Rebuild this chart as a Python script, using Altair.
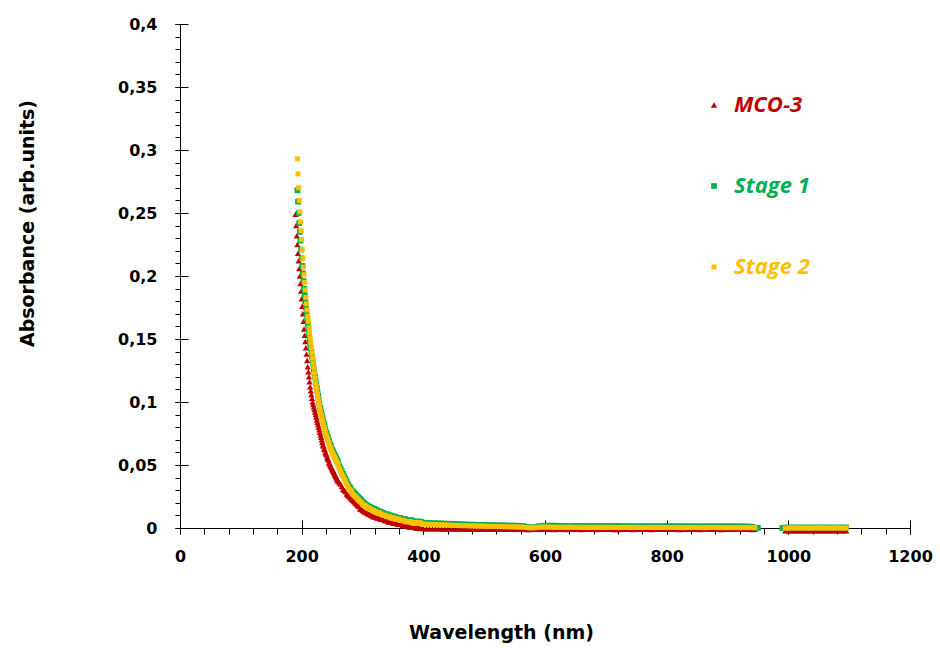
import altair as alt
import pandas as pd

# Sampling grid (nm): 1 nm in the deep UV, then coarser steps; the detector
# switch-over leaves a gap between ~950 and ~990 nm.
wl_uv = list(range(190, 261))
wl_mid = list(range(262, 401, 2))
wl_vis = list(range(405, 951, 5))
wl_nir = list(range(990, 1096, 5))

# MCO-3 absorbance
mco3_uv = [
    .249, .240, .232, .225, .218, .212, .206, .200, .194, .188,
    .182, .176, .170, .164, .158, .153, .148, .143, .138, .133,
    .128, .124, .120, .116, .112, .109, .106, .103, .100, .098,
    .096, .094, .092, .090, .088, .086, .084, .082, .080, .078,
    .076, .074, .072, .070, .068, .066, .065, .063, .062, .060,
    .059, .058, .056, .055, .054, .052, .051, .050, .049, .048,
    .047, .046, .045, .044, .043, .042, .041, .040, .039, .038,
    .037,
]
mco3_mid = [
    .036, .035, .033, .031, .030, .029, .027, .026, .025, .024,
    .023, .022, .021, .020, .019, .018, .017, .015, .015, .014,
    .013, .013, .012, .012, .011, .011, .010, .010, .009, .009,
    .009, .008, .008, .008, .007, .007, .007, .006, .006, .006,
    .005, .005, .005, .005, .004, .004, .004, .004, .003, .003,
    .003, .003, .002, .002, .002, .002, .002, .001, .001, .001,
    .001, .001, .001, .000, .000, .000, .000, .000, -.0005, -.0005,
]
mco3_vis = [
    -.0006, -.0006, -.0007, -.0007, -.0007, -.0008, -.0008, -.0008, -.0008, -.0009,
    -.0009, -.0009, -.0009, -.0010, -.0010, -.0010, -.0010, -.0010, -.0010, -.0010,
    -.0010, -.0011, -.0011, -.0010, -.0010, -.0011, -.0011, -.0010, -.0011, -.0011,
    -.0011, -.0011, -.0011, -.0012, -.0012, -.0011, -.0011, -.0011, -.0011, -.0011,
    -.0011, -.0011, -.0012, -.0011, -.0011, -.0011, -.0012, -.0011, -.0011, -.0011,
    -.0011, -.0012, -.0011, -.0011, -.0011, -.0011, -.0012, -.0011, -.0011, -.0011,
    -.0011, -.0011, -.0012, -.0012, -.0011, -.0011, -.0011, -.0011, -.0012, -.0011,
    -.0011, -.0011, -.0011, -.0011, -.0012, -.0011, -.0011, -.0011, -.0011, -.0011,
    -.0011, -.0011, -.0011, -.0012, -.0011, -.0011, -.0011, -.0011, -.0011, -.0011,
    -.0012, -.0011, -.0011, -.0011, -.0011, -.0011, -.0011, -.0012, -.0011, -.0011,
    -.0011, -.0011, -.0011, -.0011, -.0011, -.0011, -.0011, -.0012, -.0011, None,
]
mco3_nir = [
    None, -.0021, -.0022, -.0022, -.0021, -.0022, -.0022, -.0022, -.0021, -.0022,
    -.0022, -.0022, -.0022, -.0021, -.0022, -.0022, -.0022, -.0022, -.0021, -.0022,
    -.0022, -.0022,
]

# Stage 1 absorbance
stage1_uv = [
    None, None, None, .268, .259, .250, .242, .235, .228, .221,
    .214, .208, .202, .196, .190, .185, .180, .175, .170, .166,
    .162, .158, .154, .150, .146, .143, .140, .136, .133, .130,
    .126, .123, .120, .117, .114, .111, .108, .105, .102, .099,
    .096, .094, .092, .090, .088, .086, .084, .082, .080, .078,
    .076, .075, .073, .072, .070, .069, .067, .066, .065, .063,
    .062, .061, .060, .059, .058, .057, .056, .055, .054, .053,
    .052,
]
stage1_mid = [
    .049, .047, .045, .043, .041, .039, .037, .035, .033, .032,
    .030, .029, .028, .027, .026, .025, .024, .023, .022, .021,
    .020, .019, .018, .018, .017, .017, .016, .016, .015, .015,
    .014, .014, .013, .013, .013, .012, .012, .011, .011, .011,
    .010, .010, .010, .009, .009, .009, .009, .008, .008, .008,
    .008, .007, .007, .007, .007, .006, .006, .006, .006, .006,
    .006, .005, .005, .005, .005, .005, .005, .005, .004, .004,
]
stage1_vis = [
    .0042, .0040, .0039, .0038, .0037, .0036, .0035, .0034, .0033, .0032,
    .0031, .0030, .0029, .0028, .0027, .0027, .0026, .0025, .0025, .0024,
    .0023, .0023, .0022, .0022, .0021, .0021, .0020, .0020, .0019, .0019,
    .0018, .0017, .0016, .0008, .0005, .0005, .0007, .0014, .0016, .0018,
    .0019, .0019, .0018, .0018, .0017, .0017, .0017, .0012, .0016, .0016,
    .0016, .0016, .0016, .0015, .0015, .0015, .0015, .0015, .0015, .0015,
    .0015, .0015, .0015, .0015, .0015, .0015, .0014, .0014, .0014, .0014,
    .0014, .0014, .0014, .0014, .0014, .0014, .0014, .0014, .0014, .0014,
    .0014, .0014, .0014, .0014, .0013, .0013, .0013, .0013, .0013, .0013,
    .0013, .0013, .0013, .0013, .0013, .0013, .0013, .0013, .0013, .0013,
    .0013, .0013, .0013, .0013, .0013, .0012, .0012, .0010, .0004, .0001,
]
stage1_nir = [
    .0000, .0003, .0004, .0004, .0004, .0004, .0004, .0004, .0004, .0004,
    .0004, .0004, .0004, .0004, .0004, .0004, .0004, .0004, .0004, .0004,
    .0004, .0004,
]

# Stage 2 absorbance
stage2_uv = [
    None, None, None, .293, .281, .270, .260, .251, .243, .236,
    .229, .221, .214, .207, .201, .195, .189, .183, .178, .173,
    .168, .164, .159, .155, .151, .147, .143, .139, .135, .131,
    .127, .123, .119, .115, .112, .109, .106, .103, .100, .097,
    .094, .092, .090, .088, .086, .084, .082, .080, .078, .076,
    .074, .073, .071, .070, .068, .067, .065, .064, .063, .061,
    .060, .059, .058, .057, .056, .055, .054, .053, .052, .051,
    .050,
]
stage2_mid = [
    .047, .045, .043, .041, .039, .037, .035, .033, .031, .030,
    .029, .027, .026, .025, .024, .023, .022, .021, .020, .019,
    .018, .018, .017, .016, .016, .015, .015, .014, .014, .013,
    .013, .012, .012, .012, .011, .011, .010, .010, .010, .009,
    .009, .009, .008, .008, .008, .008, .007, .007, .007, .007,
    .006, .006, .006, .006, .005, .005, .005, .005, .005, .005,
    .004, .004, .004, .004, .004, .004, .004, .004, .003, .003,
]
stage2_vis = [
    .0030, .0029, .0028, .0027, .0026, .0025, .0024, .0023, .0022, .0021,
    .0020, .0019, .0018, .0018, .0017, .0016, .0016, .0015, .0015, .0014,
    .0013, .0013, .0012, .0012, .0011, .0011, .0010, .0010, .0009, .0009,
    .0008, .0008, .0007, .0004, .0002, .0002, .0003, .0006, .0007, .0007,
    .0007, .0006, .0006, .0006, .0006, .0005, .0006, .0006, .0005, .0005,
    .0005, .0005, .0005, .0004, .0005, .0005, .0005, .0005, .0005, .0005,
    .0005, .0005, .0004, .0004, .0005, .0005, .0005, .0004, .0004, .0004,
    .0004, .0004, .0004, .0004, .0004, .0004, .0004, .0004, .0004, .0004,
    .0004, .0004, .0004, .0004, .0003, .0003, .0004, .0004, .0004, .0004,
    .0003, .0003, .0003, .0004, .0004, .0004, .0003, .0003, .0003, .0003,
    .0003, .0003, .0003, .0003, .0003, .0003, .0003, .0003, .0003, None,
]
stage2_nir = [
    None, -.0001, .0000, .0000, .0000, .0000, .0000, .0000, .0000, .0000,
    .0000, .0000, .0000, .0000, .0000, .0000, .0000, .0000, .0000, .0000,
    .0000, .0000,
]

series_names = ["MCO-3", "Stage 1", "Stage 2"]
series_colors = ["#C00000", "#00B050", "#FFC000"]
series_shapes = ["triangle-up", "square", "square"]
series_sizes = [40, 25, 16]

y_major = [0, 0.05, 0.1, 0.15, 0.2, 0.25, 0.3, 0.35, 0.4]
y_minor = [round(i * 0.01, 2) for i in range(41)]
x_major = [0, 200, 400, 600, 800, 1000, 1200]
x_minor = list(range(0, 1201, 40))

wavelengths = wl_uv + wl_mid + wl_vis + wl_nir
columns = {
    "MCO-3": mco3_uv + mco3_mid + mco3_vis + mco3_nir,
    "Stage 1": stage1_uv + stage1_mid + stage1_vis + stage1_nir,
    "Stage 2": stage2_uv + stage2_mid + stage2_vis + stage2_nir,
}

rows = []
for name in series_names:
    vals = columns[name]
    if len(vals) != len(wavelengths):
        raise ValueError(f"{name}: {len(vals)} values for {len(wavelengths)} wavelengths")
    for w, v in zip(wavelengths, vals):
        if v is not None:
            rows.append({"wl": w, "absorb": v, "series": name})
df = pd.DataFrame(rows)

AXIS_FONT = "DejaVu Sans"

x_scale = alt.Scale(domain=[0, 1200], nice=False, zero=False)
y_scale = alt.Scale(domain=[0, 0.4], nice=False, zero=False)

# Legend labels take the colour of their own series
label_color_expr = " : ".join(
    f"datum.value == '{n}' ? '{c}'" for n, c in zip(series_names[:-1], series_colors[:-1])
) + f" : '{series_colors[-1]}'"

legend = alt.Legend(
    orient="none",
    legendX=523,
    legendY=70,
    title=None,
    padding=0,
    labelFont="Open Sans",
    labelFontSize=22,
    labelFontWeight="bold",
    labelFontStyle="italic",
    labelOffset=9,
    rowPadding=59,
    symbolStrokeWidth=0,
    labelColor=alt.ExprRef(expr=label_color_expr),
)

points = alt.Chart(df).mark_point(filled=True, opacity=1, strokeWidth=0).encode(
    x=alt.X(
        "wl:Q",
        scale=x_scale,
        axis=alt.Axis(
            orient="bottom",
            values=x_minor,
            labelExpr="datum.value % 200 == 0 ? format(datum.value, 'd') : ''",
            tickSize=6,
            tickColor="black",
            domainColor="black",
            grid=False,
            labelFont=AXIS_FONT,
            labelFontSize=16,
            labelFontWeight="bold",
            labelColor="black",
            labelPadding=14,
            labelFlush=False,
            labelOverlap=False,
            title="Wavelength (nm)",
            titleFont=AXIS_FONT,
            titleFontSize=19,
            titleFontWeight="bold",
            titleColor="black",
            titleX=321,
            titleY=104,
            titleBaseline="middle",
            titleAlign="center",
        ),
    ),
    y=alt.Y(
        "absorb:Q",
        scale=y_scale,
        axis=alt.Axis(
            orient="left",
            values=y_minor,
            labelExpr="abs(datum.value * 20 - round(datum.value * 20)) < 1e-6 ? replace(format(datum.value, '.2~f'), '.', ',') : ''",
            tickSize=5,
            tickColor="black",
            domainColor="black",
            grid=False,
            labelFont=AXIS_FONT,
            labelFontSize=16,
            labelFontWeight="bold",
            labelColor="black",
            labelPadding=18,
            labelFlush=False,
            labelOverlap=False,
            title="Absorbance (arb.units)",
            titleFont=AXIS_FONT,
            titleFontSize=19,
            titleFontWeight="bold",
            titleColor="black",
            titleX=-153,
            titleY=199,
            titleAngle=270,
            titleBaseline="middle",
            titleAlign="center",
        ),
    ),
    color=alt.Color("series:N", scale=alt.Scale(domain=series_names, range=series_colors), legend=legend),
    shape=alt.Shape("series:N", scale=alt.Scale(domain=series_names, range=series_shapes), legend=legend),
    size=alt.Size("series:N", scale=alt.Scale(domain=series_names, range=series_sizes), legend=legend),
)

# Major ticks that cross the axis lines
cross_ticks = alt.Chart(df).mark_point(opacity=0).encode(
    x=alt.X(
        "wl:Q",
        scale=x_scale,
        axis=alt.Axis(orient="bottom", values=x_major, offset=-8, tickSize=14, tickColor="black",
                      labels=False, domain=False, grid=False, title=None),
    ),
    y=alt.Y(
        "absorb:Q",
        scale=y_scale,
        axis=alt.Axis(orient="left", values=y_major, offset=-8, tickSize=13, tickColor="black",
                      labels=False, domain=False, grid=False, title=None),
    ),
)

chart = (
    alt.layer(points, cross_ticks)
    .resolve_axis(x="independent", y="independent")
    .properties(
        width=730,
        height=504,
        padding={"left": 180, "top": 24, "right": 30, "bottom": 120},
        autosize=alt.AutoSizeParams(type="none"),
        background="white",
    )
    .configure_view(stroke=None)
)

chart.save("out.html", embed_options={"renderer": "svg", "actions": False})
